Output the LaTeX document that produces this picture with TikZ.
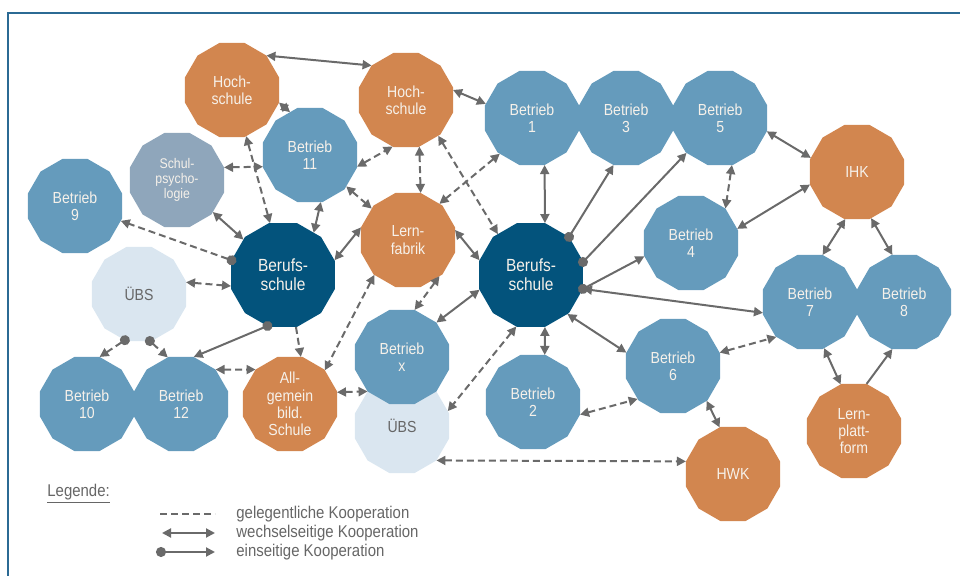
\documentclass[tikz,border=0pt]{standalone}
\usepackage{fontspec}
\setmainfont[FakeStretch=0.88]{Liberation Sans}
\usetikzlibrary{shapes.geometric,arrows.meta,positioning}
\definecolor{kupfer}{HTML}{D2864F}
\definecolor{stahl}{HTML}{659BBC}
\definecolor{nacht}{HTML}{03537C}
\definecolor{schiefer}{HTML}{8FA6BB}
\definecolor{hell}{HTML}{DAE6F0}
\definecolor{weiss}{HTML}{F6F1EA}
\definecolor{pfeil}{HTML}{6A6A6A}
\definecolor{grautext}{HTML}{666666}
\definecolor{rahmen}{HTML}{2B6A94}
\begin{document}
\begin{tikzpicture}[
		x=0.5pt, y=-0.5pt,
		font=\fontsize{8}{8.6}\selectfont,
		>={Triangle[length=4.5pt,width=4.5pt]},
		knoten/.style={regular polygon, regular polygon sides=12,
			minimum size=48.7pt, inner sep=0pt, outer sep=0pt,
			align=center, text=weiss},
		betrieb/.style={knoten, fill=stahl},
		partner/.style={knoten, fill=kupfer},
		schule/.style={knoten, fill=nacht, minimum size=53.8pt,
			font=\fontsize{8.8}{9.6}\selectfont},
		psych/.style={knoten, fill=schiefer, font=\fontsize{7}{7.6}\selectfont},
		uebs/.style={knoten, fill=hell, text=grautext},
		kante/.style={draw=pfeil, line width=1pt},
		gel/.style={kante, dash pattern=on 3.5pt off 2pt},
		wech/.style={kante, <->},
		eins/.style={kante, {Circle[length=5pt]}->, shorten <=-2.5pt},
		legtext/.style={anchor=west, inner sep=0pt, text=grautext,
			font=\fontsize{8.5}{10}\selectfont},
		]
		\useasboundingbox (0,0) rectangle (960,576);
		\draw[rahmen, line width=0.8pt] (8,576) -- (8,13) -- (960,13);
		
		\node[partner] (hsA) at (232,90) {Hoch-\\schule};
		\node[partner] (hsB) at (406,100) {Hoch-\\schule};
		\node[betrieb] (b11) at (310,155) {Betrieb\\11};
		\node[psych] (psy) at (177,180) {Schul-\\psycho-\\logie};
		\node[betrieb] (b9) at (75,206) {Betrieb\\9};
		\node[uebs] (uebsL) at (139,294) {ÜBS};
		\node[schule] (bsL) at (283,275) {Berufs-\\schule};
		\node[partner] (lf) at (408,240) {Lern-\\fabrik};
		\node[betrieb] (b10) at (87,404) {Betrieb\\10};
		\node[betrieb, right=0pt of b10] (b12) {Betrieb\\12};
		\node[partner] (allg) at (290,404) {All-\\gemein\\bild.\\Schule};
		\node[uebs] (uebsR) at (402,426) {ÜBS};
		\node[betrieb] (bx) at (402,357) {Betrieb\\x};
		\node[schule] (bsR) at (531,275) {Berufs-\\schule};
		\node[betrieb] (b1) at (532,118) {Betrieb\\1};
		\node[betrieb, right=0pt of b1] (b3) {Betrieb\\3};
		\node[betrieb, right=0pt of b3] (b5) {Betrieb\\5};
		\node[partner] (ihk) at (857,172) {IHK};
		\node[betrieb] (b4) at (691,243) {Betrieb\\4};
		\node[betrieb] (b7) at (810,302) {Betrieb\\7};
		\node[betrieb, right=0pt of b7] (b8) {Betrieb\\8};
		\node[betrieb] (b6) at (673,366) {Betrieb\\6};
		\node[betrieb] (b2) at (533,402) {Betrieb\\2};
		\node[partner] (hwk) at (733,474) {HWK};
		\node[partner] (lp) at (854,431) {Lern-\\platt-\\form};
		
		\draw[wech] (hsA.45) -- (hsB.135);
		\draw[gel,<->] (hsA.-15) -- (b11.115);
		\draw[gel,<->] (hsA.-73) -- (bsL.104);
		\draw[gel,<->] (psy.15) -- (b11.194);
		\draw[wech] (psy) -- (bsL);
		\draw[gel,eins] (bsL.164) -- (b9.-18);
		\draw[gel,<->] (uebsL.14) -- (bsL.192);
		\draw[wech] (b11.-77) -- (bsL.54);
		\draw[gel,<->] (b11.-14) -- (hsB.-106);
		\draw[gel,<->] (b11) -- (lf);
		\draw[gel,<->] (hsB.-74) -- (lf.75);
		\draw[wech] (lf.165) -- (bsL.16);
		\draw[wech] (hsB.12) -- (b1.163);
		\draw[gel,<->] (hsB.-48) -- (bsR.129);
		\draw[gel,<->] (b1.-132) -- (lf.49);
		\draw[wech] (b1.-75) -- (bsR.75);
		\draw[eins] (bsR.45) -- (b3.-105);
		\draw[eins] (bsR.14) -- (b5.-134);
		\draw[eins] (bsR.-15) -- (b4.196);
		\draw[wech] (bsR.-15) -- (b7.193);
		\draw[wech] (lf.12) -- (bsR.164);
		\draw[gel,<->] (lf.-49) -- (bx.75);
		\draw[gel,<->] (lf.-134) -- (allg.44);
		\draw[gel,->] (bsL.-76) -- (allg.77);
		\draw[eins] (bsL.-107) -- (b12.75);
		\draw[gel,eins] (uebsL.-107) -- (b10.75);
		\draw[gel,eins] (uebsL.-77) -- (b12.106);
		\draw[gel,<->] (b12.45) -- (allg.135);
		\draw[gel,<->] (allg.14) -- (bx.225);
		\draw[wech] (bx.45) -- (bsR.196);
		\draw[gel,<->] (bsR.-106) -- (uebsR.18);
		\draw[wech] (bsR.-75) -- (b2.76);
		\draw[wech] (bsR.-47) -- (b6.164);
		\draw[gel,<->] (b2.-15) -- (b6.-137);
		\draw[gel,<->] (b6.16) -- (b7.226);
		\draw[wech] (b6.-46) -- (hwk.106);
		\draw[gel,<->] (uebsR.-45) -- (hwk.165);
		\draw[wech] (b5.-16) -- (ihk.163);
		\draw[gel,<->] (b5.-76) -- (b4.45);
		\draw[wech] (b4.17) -- (ihk.195);
		\draw[wech] (ihk.-104) -- (b7.75);
		\draw[wech] (ihk.-73) -- (b8.104);
		\draw[wech] (b7.-73) -- (lp.106);
		\draw[kante,->] (lp.75) -- (b8.-104);
		
		\node[legtext] (legende) at (47,494) {\underline{Legende:}};
		\coordinate (g1) at (160,514);
		\coordinate (g2) at (215,514);
		\coordinate (w1) at (162,533);
		\coordinate (w2) at (215,533);
		\coordinate (e1) at (161,552);
		\coordinate (e2) at (215,552);
		\draw[gel] (g1) -- (g2);
		\draw[wech] (w1) -- (w2);
		\draw[kante, {Circle[length=5pt]}->, shorten <=-2.5pt] (e1) -- (e2);
		\node[legtext] (tgel) at (236,514) {gelegentliche Kooperation};
		\node[legtext] (twech) at (236,533) {wechselseitige Kooperation};
		\node[legtext] (teins) at (236,552) {einseitige Kooperation};
		\end{tikzpicture}
\end{document}
